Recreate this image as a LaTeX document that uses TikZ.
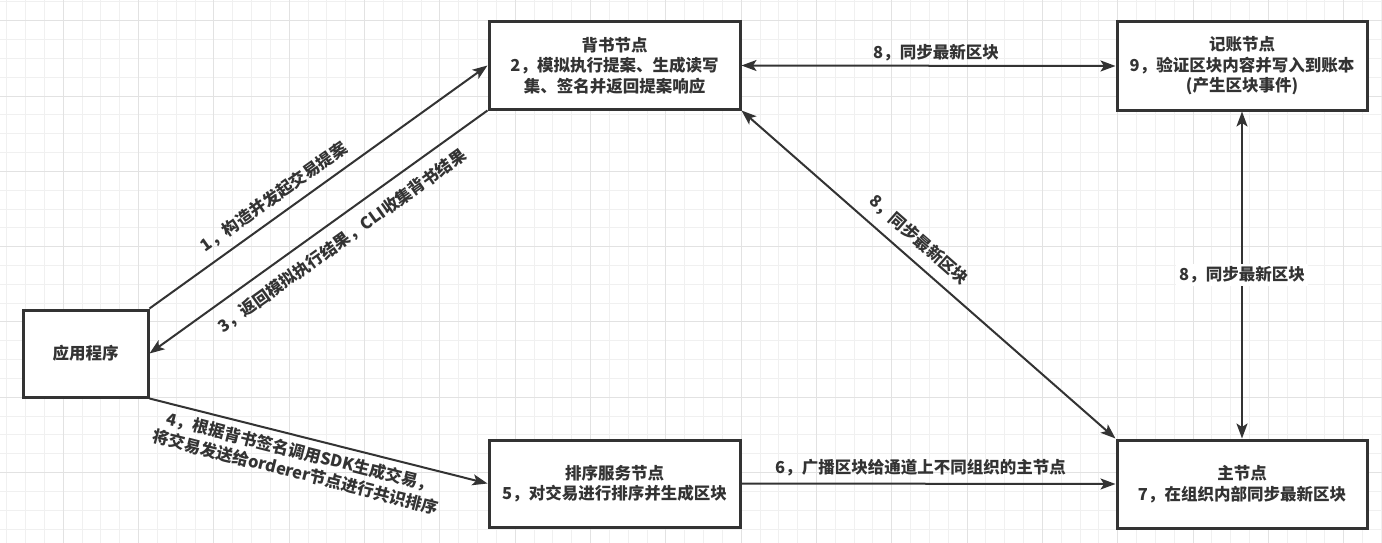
\documentclass[tikz,border=0pt]{standalone}
\usepackage{fontspec}
\setmainfont{Noto Sans CJK SC}
\usetikzlibrary{arrows.meta}
\definecolor{ink}{HTML}{333333}
\definecolor{gridminor}{HTML}{F0F0F0}
\definecolor{gridmajor}{HTML}{E2E2E2}
\tikzset{
  txt/.style={text=ink, font=\fontsize{16.5}{20.5}\selectfont\bfseries},
  box/.style={txt, draw=ink, line width=3pt, fill=white, inner sep=0pt, align=center},
  conn/.style={draw=ink, line width=2pt, -{Stealth[length=15pt,width=11pt,inset=3.5pt]}},
  both/.style={draw=ink, line width=2pt, {Stealth[length=15pt,width=11pt,inset=3.5pt]}-{Stealth[length=15pt,width=11pt,inset=3.5pt]}},
  lbl/.style={txt, align=center, inner sep=1pt},
  gmin/.style={draw=gridminor, line width=1pt},
  gmaj/.style={draw=gridmajor, line width=1pt}
}
\begin{document}
\begin{tikzpicture}[x=1pt, y=-1pt]
\useasboundingbox (0,0) rectangle (1382,543);
\fill[white] (0,0) rectangle (1382,543);
% grid
\foreach \i in {0,...,73} {\draw[gmin] ({6.8+\i*18.83},0) -- ({6.8+\i*18.83},543);}
\foreach \i in {0,...,28} {\draw[gmin] (0,{1.87+\i*18.83}) -- (1382,{1.87+\i*18.83});}
\foreach \i in {0,...,17} {\draw[gmaj] ({63.3+\i*75.32},0) -- ({63.3+\i*75.32},543);}
\foreach \i in {0,...,6} {\draw[gmaj] (0,{20.7+\i*75.32}) -- (1382,{20.7+\i*75.32});}

% boxes
\node[box, minimum width=125pt, minimum height=87pt] (app) at (85.5,353.5) {应用程序};
\node[box, minimum width=251pt, minimum height=87pt] (endorser) at (614.5,65.5) {背书节点\\2，模拟执行提案、生成读写\\集、签名并返回提案响应};
\node[box, minimum width=250pt, minimum height=88pt] (ledger) at (1242,66) {记账节点\\9，验证区块内容并写入到账本\\(产生区块事件)};
\node[box, minimum width=251pt, minimum height=87pt] (orderer) at (614.5,483.5) {排序服务节点\\5，对交易进行排序并生成区块};
\node[box, minimum width=250pt, minimum height=88pt] (main) at (1242,484) {主节点\\7，在组织内部同步最新区块};

% connectors
\draw[conn] (app.north east) -- (endorser.west);
\draw[conn] (endorser.south west) -- (app.east);
\draw[conn] (app.south east) -- (orderer.west);
\draw[conn] (orderer.east) -- (main.west);
\draw[both] (endorser.east) -- (ledger.west);
\draw[both] (endorser.south east) -- (main.north west);
\draw[both] (ledger.south) -- node[lbl, fill=white, inner sep=3pt] (lab8c) {8，同步最新区块} (main.north);

% labels
\node[lbl, rotate=35.3] (lab1) at (274,197) {1，构造并发起交易提案};
\node[lbl, rotate=35.6] (lab3) at (342,241) {3，返回模拟执行结果，CLI收集背书结果};
\node[lbl, rotate=-14.2] (lab4) at (298,462) {4，根据背书签名调用SDK生成交易，\\将交易发送给orderer节点进行共识排序};
\node[lbl] (lab6) at (920.5,468) {6，广播区块给通道上不同组织的主节点};
\node[lbl] (lab8a) at (936,53) {8，同步最新区块};
\node[lbl, rotate=-41.3] (lab8b) at (919,240) {8，同步最新区块};
\end{tikzpicture}
\end{document}
